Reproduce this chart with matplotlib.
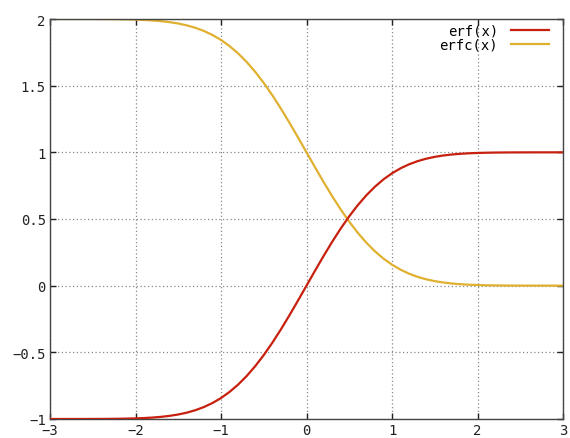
import matplotlib.pyplot as plt

x = [-3.0, -2.9, -2.8, -2.7, -2.6, -2.5, -2.4, -2.3, -2.2, -2.1, -2.0,
     -1.9, -1.8, -1.7, -1.6, -1.5, -1.4, -1.3, -1.2, -1.1, -1.0,
     -0.9, -0.8, -0.7, -0.6, -0.5, -0.4, -0.3, -0.2, -0.1, 0.0,
     0.1, 0.2, 0.3, 0.4, 0.5, 0.6, 0.7, 0.8, 0.9, 1.0,
     1.1, 1.2, 1.3, 1.4, 1.5, 1.6, 1.7, 1.8, 1.9, 2.0,
     2.1, 2.2, 2.3, 2.4, 2.5, 2.6, 2.7, 2.8, 2.9, 3.0]

erf_vals = [-0.99998, -0.99996, -0.99992, -0.99987, -0.99976, -0.99959,
            -0.99931, -0.99886, -0.99814, -0.99702, -0.99532,
            -0.99279, -0.98909, -0.98379, -0.97635, -0.96611,
            -0.95229, -0.93401, -0.91031, -0.88021, -0.84270,
            -0.79691, -0.74210, -0.67780, -0.60386, -0.52050,
            -0.42839, -0.32863, -0.22270, -0.11246, 0.0,
            0.11246, 0.22270, 0.32863, 0.42839, 0.52050,
            0.60386, 0.67780, 0.74210, 0.79691, 0.84270,
            0.88021, 0.91031, 0.93401, 0.95229, 0.96611,
            0.97635, 0.98379, 0.98909, 0.99279, 0.99532,
            0.99702, 0.99814, 0.99886, 0.99931, 0.99959,
            0.99976, 0.99987, 0.99992, 0.99996, 0.99998]

erfc_vals = [1.99998, 1.99996, 1.99992, 1.99987, 1.99976, 1.99959,
             1.99931, 1.99886, 1.99814, 1.99702, 1.99532,
             1.99279, 1.98909, 1.98379, 1.97635, 1.96611,
             1.95229, 1.93401, 1.91031, 1.88021, 1.84270,
             1.79691, 1.74210, 1.67780, 1.60386, 1.52050,
             1.42839, 1.32863, 1.22270, 1.11246, 1.0,
             0.88754, 0.77730, 0.67137, 0.57161, 0.47950,
             0.39614, 0.32220, 0.25790, 0.20309, 0.15730,
             0.11979, 0.08969, 0.06599, 0.04771, 0.03389,
             0.02365, 0.01621, 0.01091, 0.00721, 0.00468,
             0.00298, 0.00186, 0.00114, 0.00069, 0.00041,
             0.00024, 0.00013, 0.00008, 0.00004, 0.00002]

xticks = [-3, -2, -1, 0, 1, 2, 3]
yticks = [-1, -0.5, 0, 0.5, 1, 1.5, 2]
ytick_labels = ['\u22121', '\u22120.5', '0', '0.5', '1', '1.5', '2']
xtick_labels = ['\u22123', '\u22122', '\u22121', '0', '1', '2', '3']

plt.rcParams['font.family'] = ['DejaVu Sans Mono']

fig = plt.figure(figsize=(5.7, 4.39), dpi=100)
ax = fig.add_axes([50 / 570, 19 / 439, 513 / 570, 400 / 439])

ax.plot(x, erf_vals, color='#c8200e', lw=1.6, label='erf(x)', zorder=3)
ax.plot(x, erfc_vals, color='#e0b030', lw=1.6, label='erfc(x)', zorder=2)

ax.set_xlim(-3, 3)
ax.set_ylim(-1, 2)
ax.set_xticks(xticks)
ax.set_xticklabels(xtick_labels)
ax.set_yticks(yticks)
ax.set_yticklabels(ytick_labels)
ax.tick_params(direction='in', length=4, width=1, labelsize=10, colors='#222222',
               top=True, right=True, pad=3)
ax.grid(True, color='#888888', linestyle=(0, (1, 2)), linewidth=0.9)
for s in ax.spines.values():
    s.set_color('#444444')
    s.set_linewidth(1)

ax.legend(loc='upper right', bbox_to_anchor=(0.983, 1.0), frameon=False,
          markerfirst=False, fontsize=10, handlelength=2.8, handletextpad=0.9,
          labelspacing=0.0, borderaxespad=0.1, borderpad=0.25)

fig.savefig('out.png', dpi=100)
